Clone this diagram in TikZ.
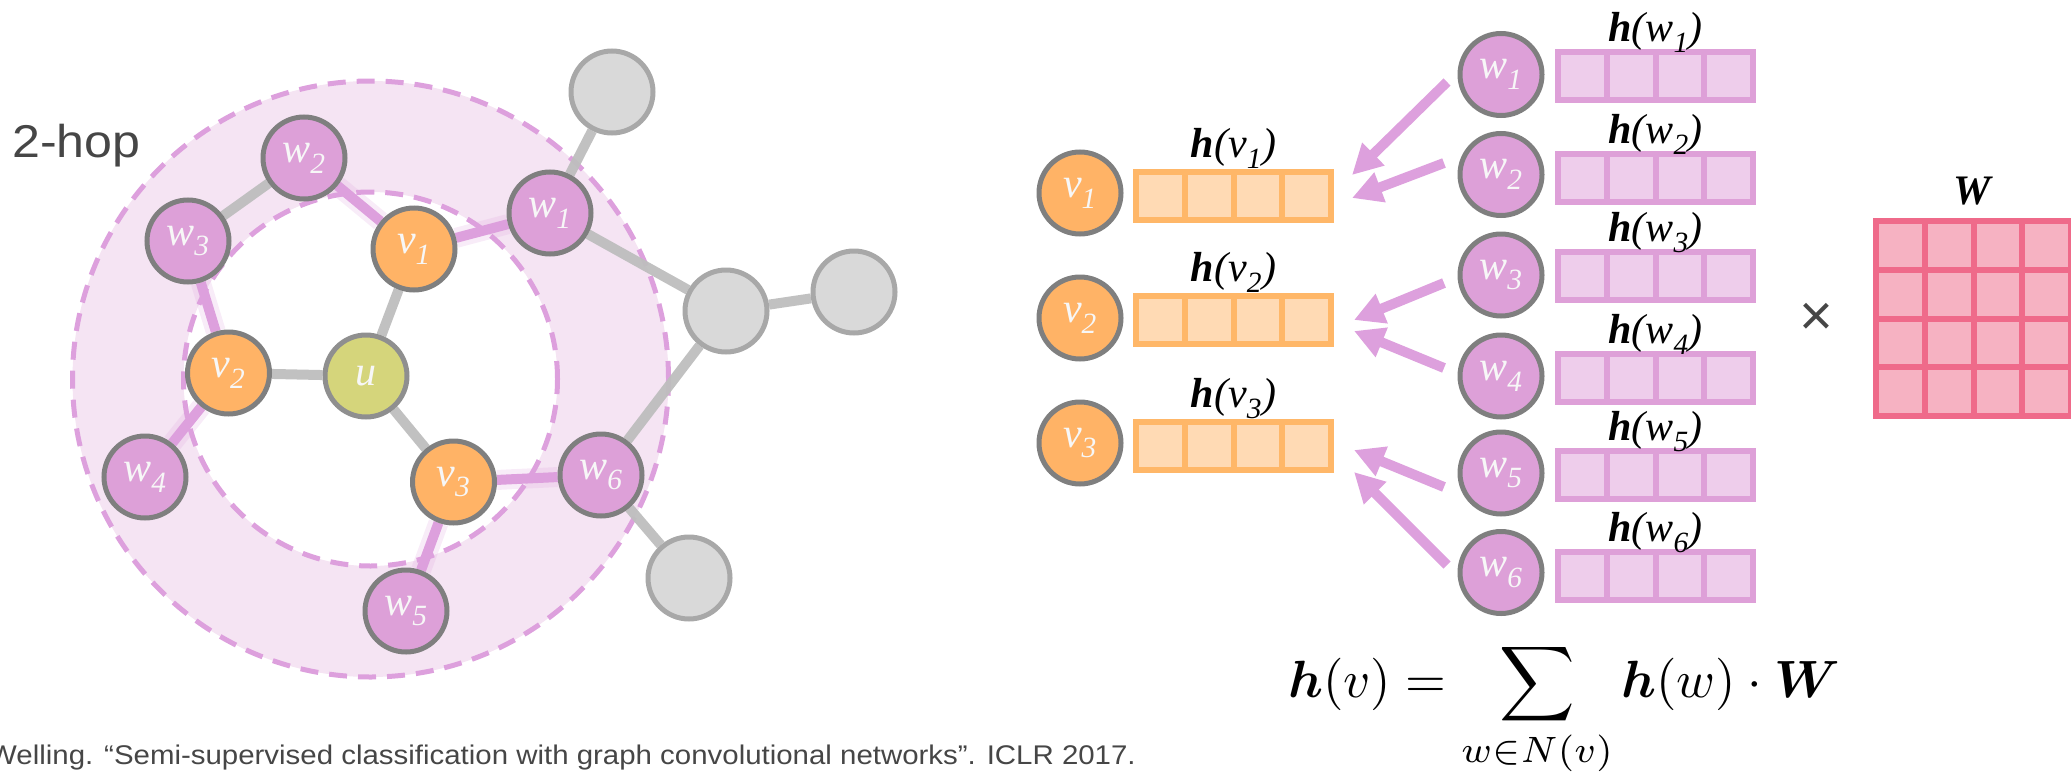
\documentclass[tikz,border=0pt]{standalone}
\usepackage{amsmath}
\usepackage{graphicx}
\usepackage{fontspec}
\usetikzlibrary{arrows.meta,calc}
\newfontfamily\serifface{Liberation Serif}
\newfontfamily\sansface{Liberation Sans}[FakeStretch=1.09]
\newfontfamily\plainsans{Liberation Sans}

\definecolor{nodepink}{HTML}{DDA0D8}
\definecolor{nodeorange}{HTML}{FFB366}
\definecolor{nodeu}{HTML}{D5D57B}
\definecolor{nodegray}{HTML}{D9D9D9}
\definecolor{borderdark}{HTML}{7F7F7F}
\definecolor{borderlight}{HTML}{A8A8A8}
\definecolor{edgegray}{HTML}{BEBEBE}
\definecolor{edgepink}{HTML}{DDA0DD}
\definecolor{ringfill}{HTML}{F5E4F3}
\definecolor{vecOline}{HTML}{FFB768}
\definecolor{vecOfill}{HTML}{FFDAB4}
\definecolor{vecPline}{HTML}{DEA0D8}
\definecolor{vecPfill}{HTML}{EECDEB}
\definecolor{matline}{HTML}{EF6A8A}
\definecolor{matfill}{HTML}{F6B2C2}
\definecolor{textgray}{HTML}{464646}

% node label: italic letter with subscript index
\newcommand\nl[2]{{\itshape #1\textsubscript{#2}}}
% feature label h(x_i)
\newcommand\hl[2]{\textbf{\textit{h}}\textit{(#1\textsubscript{#2})}}

\pgfdeclarelayer{bg}
\pgfsetlayers{bg,main}

\tikzset{
  dot/.style={circle, inner sep=0pt, minimum size=82pt, line width=5pt,
    draw=borderdark, text=white!97!black,
    font={\serifface\fontsize{42}{46}\selectfont}},
  pnode/.style={dot, fill=nodepink},
  onode/.style={dot, fill=nodeorange},
  unode/.style={dot, fill=nodeu, draw=borderlight!85!black},
  gnode/.style={dot, fill=nodegray, draw=borderlight},
  gedge/.style={draw=edgegray, line width=10pt},
  pedge/.style={draw=edgepink, line width=10pt},
  pglow/.style={draw=edgepink, line width=20pt, opacity=0.2},
  ring/.style={draw=edgepink, line width=5pt, dash pattern=on 18pt off 11pt},
  vecbase/.style={rectangle, inner sep=0pt, outer sep=0pt,
    minimum width=195pt, minimum height=48.5pt, line width=6pt, draw=#1,
    path picture={\foreach \k in {1,2,3}{
      \draw[line width=6pt,#1]
        ($(path picture bounding box.south west)!\k/4!(path picture bounding box.south east)$) --
        ($(path picture bounding box.north west)!\k/4!(path picture bounding box.north east)$);}}},
  ovec/.style={vecbase=vecOline, fill=vecOfill},
  pvec/.style={vecbase=vecPline, fill=vecPfill},
  wmat/.style={rectangle, inner sep=0pt, outer sep=0pt,
    minimum width=195.2pt, minimum height=195.2pt, line width=6pt,
    draw=matline, fill=matfill,
    path picture={\foreach \k in {1,2,3}{
      \draw[line width=6pt,matline]
        ($(path picture bounding box.south west)!\k/4!(path picture bounding box.south east)$) --
        ($(path picture bounding box.north west)!\k/4!(path picture bounding box.north east)$);
      \draw[line width=6pt,matline]
        ($(path picture bounding box.south west)!\k/4!(path picture bounding box.north west)$) --
        ($(path picture bounding box.south east)!\k/4!(path picture bounding box.north east)$);}}},
  hlab/.style={anchor=base, inner sep=0pt, text=black,
    font={\serifface\fontsize{42}{46}\selectfont}},
  parr/.style={draw=edgepink, line width=10pt,
    -{Triangle[length=30pt,width=30pt]}},
}

\begin{document}
\begin{tikzpicture}[x=1pt,y=-1pt]
\useasboundingbox (0,0) rectangle (2071,771);

% ---------- neighbourhood graph ----------
\coordinate (ctr) at (370.5,379);

\node[gnode] (g1) at (612,92) {};
\node[gnode] (g2) at (726,311) {};
\node[gnode] (g3) at (854,292) {};
\node[gnode] (g4) at (689,578) {};

\node[pnode] (w1) at (550,213) {\nl{w}{1}};
\node[pnode] (w2) at (304,158) {\nl{w}{2}};
\node[pnode] (w3) at (188,241) {\nl{w}{3}};
\node[pnode] (w4) at (145,477) {\nl{w}{4}};
\node[pnode] (w5) at (406,611) {\nl{w}{5}};
\node[pnode] (w6) at (601,475) {\nl{w}{6}};

\node[onode] (v1) at (414,249) {\nl{v}{1}};
\node[onode] (v2) at (228.5,373) {\nl{v}{2}};
\node[onode] (v3) at (453.5,482) {\nl{v}{3}};

\node[unode] (u) at (366,376) {\itshape u};

\begin{pgfonlayer}{bg}
  % two-hop ring
  \fill[ringfill, even odd rule] (ctr) circle[radius=298pt] (ctr) circle[radius=187pt];
  \draw[ring] (ctr) circle[radius=298pt];
  \draw[ring] (ctr) circle[radius=187pt];
  % pink halo under first-to-second hop edges
  \foreach \a/\b in {w2/v1, v1/w1, w3/v2, v2/w4, v3/w6, v3/w5}
    \draw[pglow] (\a) -- (\b);
  \foreach \a/\b in {w2/v1, v1/w1, w3/v2, v2/w4, v3/w6, v3/w5}
    \draw[pedge] (\a) -- (\b);
  % remaining edges
  \foreach \a/\b in {w2/w3, v1/u, v2/u, u/v3, w1/g1, w1/g2, g2/g3, g2/w6, w6/g4}
    \draw[gedge, opacity=0.95] (\a) -- (\b);
\end{pgfonlayer}

\node[anchor=base west, inner sep=0pt, text=textgray,
      font={\sansface\fontsize{46}{50}\selectfont}] (hop) at (12,157) {2-hop};

\node[anchor=base west, inner sep=0pt, text=textgray,
      font={\sansface\fontsize{27}{30}\selectfont}] (cite) at (-11,764)
  {Welling. “Semi-supervised classification with graph convolutional networks”. ICLR 2017.};

% ---------- aggregation ----------
\node[onode] (rv1) at (1080,193) {\nl{v}{1}};
\node[onode] (rv2) at (1080,318) {\nl{v}{2}};
\node[onode] (rv3) at (1080,443) {\nl{v}{3}};

\node[ovec] (hv1) at (1233.5,196) {};
\node[ovec] (hv2) at (1233.5,320) {};
\node[ovec] (hv3) at (1233.5,446) {};

\node[hlab] (lv1) at ([yshift=14pt]hv1.north) {\hl{v}{1}};
\node[hlab] (lv2) at ([yshift=14pt]hv2.north) {\hl{v}{2}};
\node[hlab] (lv3) at ([yshift=14pt]hv3.north) {\hl{v}{3}};

\foreach \i/\y/\yy in {1/74.5/76, 2/174.5/178, 3/275/276, 4/376/378, 5/473/475, 6/572.5/576}{
  \node[pnode] (rw\i) at (1501,\y) {\nl{w}{\i}};
  \node[pvec] (hw\i) at (1655.5,\yy) {};
  \node[hlab] (lw\i) at ([yshift=10pt]hw\i.north) {\hl{w}{\i}};
}

% arrow ends next to the feature vectors
\coordinate (s1) at (1447,82);   \coordinate (t1) at (1352,175);
\coordinate (s2) at (1444,163);  \coordinate (t2) at (1352,198);
\coordinate (s3) at (1444,283);  \coordinate (t3) at (1354,320);
\coordinate (s4) at (1444,368);  \coordinate (t4) at (1354,331);
\coordinate (s5) at (1444,487);  \coordinate (t5) at (1354,450);
\coordinate (s6) at (1447,565);  \coordinate (t6) at (1354,472);
\foreach \i in {1,...,6}
  \draw[parr] (s\i) -- (t\i);

% weight matrix
\node[wmat] (W) at (1973.5,318.5) {};
\node[hlab] (lW) at ([yshift=16pt]W.north) {\textbf{\textit{W}}};
\node[inner sep=0pt, text=textgray,
      font={\plainsans\fontsize{58}{62}\selectfont}] (times) at (1816.5,319) {×};

% update rule, typeset at 10pt and enlarged
\node[anchor=base west, inner sep=0pt] (eq) at (1288,697)
  {\scalebox{5.24}{$\displaystyle \boldsymbol{h}(v) = \sum_{w\in N(v)} \boldsymbol{h}(w)\cdot\boldsymbol{W}$}};
\end{tikzpicture}
\end{document}
